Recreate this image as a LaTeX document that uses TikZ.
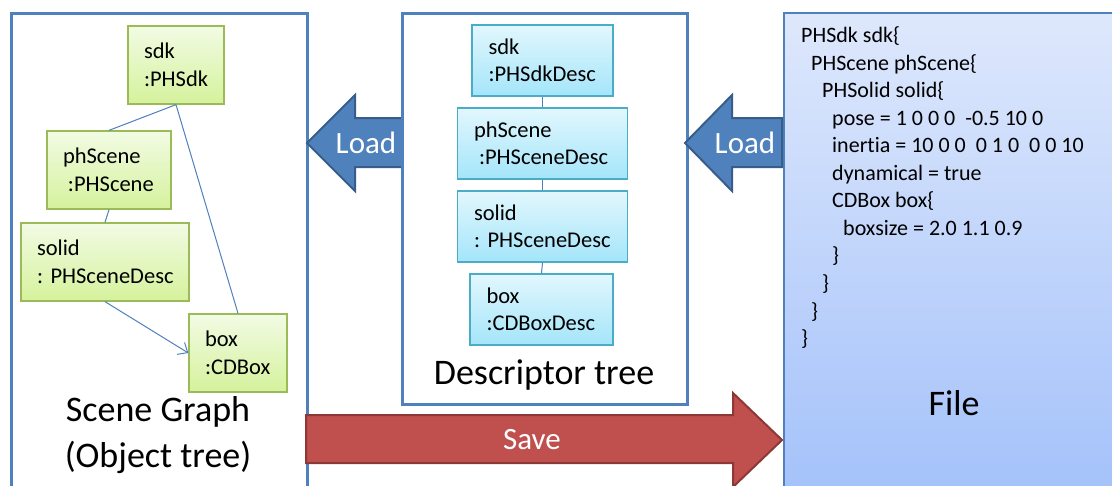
\documentclass[tikz,border=0pt]{standalone}
\usepackage{fontspec}
\setmainfont{Carlito}[Ligatures=NoCommon]
\usetikzlibrary{arrows.meta}
\frenchspacing

\definecolor{panelblue}{HTML}{4F81BD}
\definecolor{arrowedge}{HTML}{385D8A}
\definecolor{saveface}{HTML}{C0504D}
\definecolor{saveedge}{HTML}{8C3836}
\definecolor{greenedge}{HTML}{9BBB59}
\definecolor{greentop}{HTML}{F2FBE4}
\definecolor{greenbot}{HTML}{D5F29C}
\definecolor{cyanedge}{HTML}{4BACC6}
\definecolor{cyantop}{HTML}{E2F7FD}
\definecolor{cyanbot}{HTML}{A4E5FA}
\definecolor{filetop}{HTML}{DEE8FC}
\definecolor{filebot}{HTML}{A3C1FA}

\tikzset{
  panel/.style={draw=panelblue, line width=3pt, fill=white},
  objbox/.style={draw=greenedge, line width=1.3pt, top color=greentop, bottom color=greenbot,
    align=left, inner xsep=16pt, inner ysep=0pt, minimum height=78pt,
    font=\fontsize{22.5}{28}\selectfont},
  descbox/.style={draw=cyanedge, line width=1.3pt, top color=cyantop, bottom color=cyanbot,
    align=left, inner xsep=16.5pt, inner ysep=0pt, minimum height=71pt,
    font=\fontsize{22.5}{26.5}\selectfont},
  treeline/.style={draw=panelblue, line width=1pt},
  title/.style={align=center, font=\fontsize{36}{46}\selectfont},
  loadarrow/.style={draw=arrowedge, line width=2pt, fill=panelblue, line join=miter},
  savearrow/.style={draw=saveedge, line width=2pt, fill=saveface, line join=miter},
  arrowlabel/.style={text=white, font=\fontsize{31}{36}\selectfont},
  filetext/.style={anchor=base west, inner sep=0pt, font=\fontsize{22}{27.5}\selectfont},
}
% two unbroken lines of a tree box
\newcommand{\twolines}[2]{\mbox{#1}\\\mbox{#2}}

\begin{document}
\begin{tikzpicture}[x=1pt, y=-1pt]
\clip (0,0) rectangle (1112,485);
\fill[white] (0,0) rectangle (1112,485);

% ---- File panel ----
\path[draw=panelblue, line width=1.5pt, top color=filetop, bottom color=filebot]
  (784,13) rectangle (1125,500);
\node[title] (filetitle) at (954,403) {File};
\foreach \i/\x/\t in {
  1/801/{PHSdk sdk\{},
  2/811/{PHScene phScene\{},
  3/822/{PHSolid solid\{},
  4/832/{pose = 1 0 0 0 \ -0.5 10 0},
  5/832/{inertia = 10 0 0 \ 0 1 0 \ 0 0 10},
  6/832/{dynamical = true},
  7/832/{CDBox box\{},
  8/843/{boxsize = 2.0 1.1 0.9},
  9/832/{\}},
  10/822/{\}},
  11/811/{\}},
  12/801/{\}}}
  \node[filetext] (f\i) at (\x, {42.5+27.55*(\i-1)}) {\t};

% ---- Scene graph panel ----
\draw[panel] (11,13) rectangle (307,500);
\node[objbox, text width=64pt]  (gsdk) at (176,65)  {\twolines{sdk}{:PHSdk}};
\node[objbox, text width=92pt]  (gscn) at (109,170) {\twolines{phScene}{\hspace*{5pt}:PHScene}};
\node[objbox, text width=136pt] (gsol) at (105,262) {\twolines{solid}{: PHSceneDesc}};
\node[objbox, text width=66pt]  (gbox) at (238,353) {\twolines{box}{:CDBox}};
\draw[treeline] (gsdk.south) -- (gscn.north);
\draw[treeline] (gscn.south) -- (gsol.north);
\draw[treeline] (gsdk.south) -- (gbox.north);
\draw[treeline, -{Straight Barb[length=8pt,width=14pt]}] (gsol.south) -- (gbox.west);
\node[title] (scenetitle) at (158,435) {Scene Graph\\(Object tree)};

% ---- Load arrow: descriptor tree -> scene graph ----
\draw[loadarrow] (307,143) -- (355,95) -- (355,118) -- (403,118) -- (403,167)
  -- (355,167) -- (355,191) -- cycle;
\node[arrowlabel] (loadLtext) at (366,143) {Load};

% ---- Descriptor tree panel ----
\draw[panel] (402,13) rectangle (687,404);
\node[descbox, text width=108pt] (dsdk) at (542.5,60.5)  {\twolines{sdk}{:PHSdkDesc}};
\node[descbox, text width=137pt] (dscn) at (542.5,143.5) {\twolines{phScene}{\hspace*{5pt}:PHSceneDesc}};
\node[descbox, text width=137pt] (dsol) at (542.5,226.5) {\twolines{solid}{: PHSceneDesc}};
\node[descbox, text width=110pt] (dbox) at (541.5,309.5) {\twolines{box}{:CDBoxDesc}};
\draw[treeline] (dsdk.south) -- (dscn.north);
\draw[treeline] (dscn.south) -- (dsol.north);
\draw[treeline] (dsol.south) -- (dbox.north);
\node[title] (desctitle) at (544,375) {Descriptor tree};

% ---- Load arrow: file -> descriptor tree ----
\draw[loadarrow] (685,143) -- (732,95) -- (732,118) -- (782,118) -- (782,167)
  -- (732,167) -- (732,191) -- cycle;
\node[arrowlabel] (loadRtext) at (745,143) {Load};

% ---- Save arrow: scene graph -> file ----
\draw[savearrow] (306,415) -- (733,415) -- (733,393) -- (782,440) -- (733,487)
  -- (733,463) -- (306,463) -- cycle;
\node[arrowlabel] (savetext) at (532,440) {Save};
\end{tikzpicture}
\end{document}
